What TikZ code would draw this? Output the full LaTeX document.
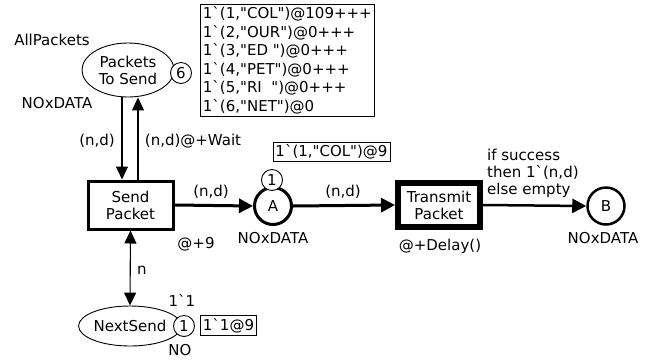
\documentclass[tikz,border=0pt]{standalone}
\usepackage{fontspec}
\setmainfont{DejaVu Sans}[Ligatures=TeXOff]
\usetikzlibrary{shapes.geometric,arrows.meta}
\newcommand{\bq}{\symbol{96}}
\begin{document}
\begin{tikzpicture}[x=1pt,y=-1pt,
  every node/.style={font=\fontsize{15}{17}\selectfont, inner sep=0pt},
  place/.style={ellipse, draw, line width=0.9pt, minimum width=92, minimum height=54, align=center},
  thickplace/.style={circle, draw, line width=3pt, minimum size=37},
  trans/.style={rectangle, draw, minimum width=85, minimum height=48, align=center},
  token/.style={circle, draw, fill=white, line width=0.9pt, minimum size=21},
  markbox/.style={rectangle, draw, line width=0.9pt, inner sep=2.5pt, align=left},
  thinarc/.style={line width=1.1pt, -{Triangle[length=13pt,width=12pt]}},
  thickarc/.style={line width=3pt, -{Triangle[length=14pt,width=14pt]}},
  lbl/.style={anchor=center}]
\useasboundingbox (0,0) rectangle (651,360);
% places
\node[place] (PTS) at (128,70) {Packets\\To Send};
\node[token] (t6) at (181,73) {6};
\node[lbl] (lAll) at (52,40) {AllPackets};
\node[lbl] (lNO1) at (57,103) {NOxDATA};
\node[markbox, anchor=north west, font=\fontsize{15}{18.5}\selectfont] (m1) at (200,4)
 {1\bq(1,"COL")@109+++\\1\bq(2,"OUR")@0+++\\1\bq(3,"ED ")@0+++\\1\bq(4,"PET")@0+++\\1\bq(5,"RI\ \ ")@0+++\\1\bq(6,"NET")@0};

\node[trans, line width=3pt] (SP) at (130.5,205) {Send\\Packet};
\node[thickplace] (A) at (273,206) {A};
\node[token] (tA) at (272,180) {1};
\node[markbox] (mA) at (331.5,152) {1\bq(1,"COL")@9};
\node[lbl] (lNOA) at (273,238) {NOxDATA};

\node[trans, line width=6pt, minimum width=82, minimum height=44] (TP) at (439,205) {Transmit\\Packet};
\node[lbl] (lDelay) at (440,246) {@+Delay()};
\node[thickplace, line width=2.5pt] (B) at (606,206) {B};
\node[lbl] (lNOB) at (603,238) {NOxDATA};

\node[place, minimum width=96, minimum height=40] (NS) at (130,326) {NextSend};
\node[token] (tNS) at (184,326) {1};
\node[lbl] (lNO) at (180,350) {NO};
\node[lbl] (l11) at (182,300) {1\bq1};
\node[markbox] (mNS) at (228.5,325.5) {1\bq1@9};

% arcs
\draw[thinarc] ([xshift=-6pt]PTS.south) -- ([xshift=-8.5pt]SP.north);
\draw[thinarc] ([xshift=7.5pt]SP.north) -- ([xshift=10pt]PTS.south);
\node[lbl] (l1) at (97,141) {(n,d)};
\node[lbl] (l2) at (193,141) {(n,d)@+Wait};

\draw[thickarc] (SP.east) -- (A.west);
\node[lbl] (l3) at (211,192) {(n,d)};
\node[lbl] (l4) at (196,244) {@+9};

\draw[thickarc] (A.east) -- (TP.west);
\node[lbl] (l5) at (343,192) {(n,d)};

\draw[line width=2.5pt, -{Triangle[length=14pt,width=14pt]}] (TP.east) -- (B.west);
\node[anchor=west, align=left, font=\fontsize{15}{17}\selectfont] (l6) at (487,173) {if success\\then 1\bq(n,d)\\else empty};

\draw[line width=1.1pt, {Triangle[length=13pt,width=12pt]}-{Triangle[length=13pt,width=12pt]}] (SP.south) -- (NS.north);
\node[lbl] (l7) at (142,270) {n};
\end{tikzpicture}
\end{document}
